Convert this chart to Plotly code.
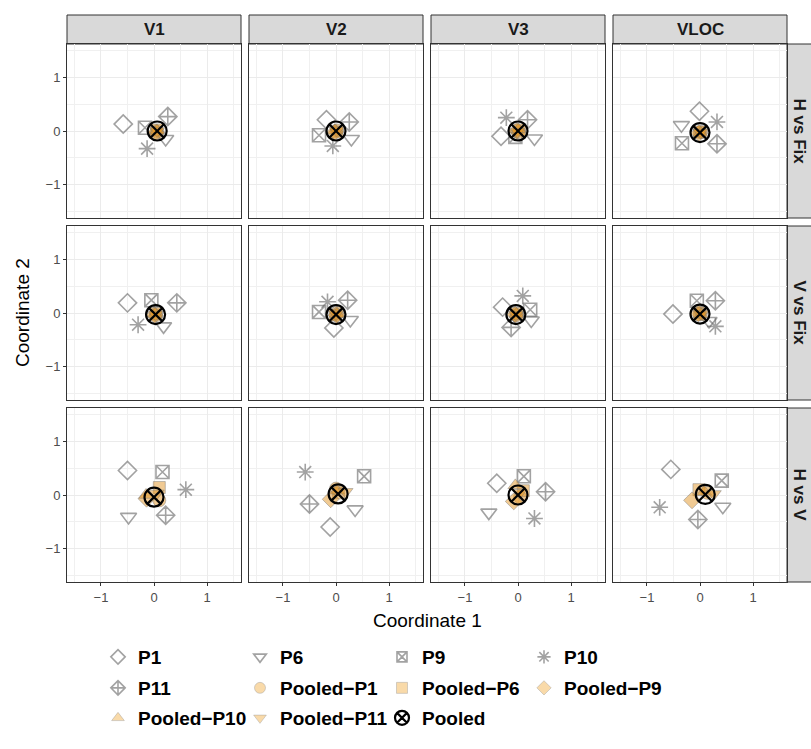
import plotly.graph_objects as go
from plotly.subplots import make_subplots

# ---------------- data ----------------
col_labels = ["V1", "V2", "V3", "VLOC"]
row_labels = ["H vs Fix", "V vs Fix", "H vs V"]
tick_vals = [-1, 0, 1]
tick_text = ["\u22121", "0", "1"]

# order: rows (H vs Fix, V vs Fix, H vs V) x columns (V1, V2, V3, VLOC)
P1_x = [-0.58, -0.18, -0.32, -0.01, -0.50, -0.04, -0.29, -0.51, -0.50, -0.11, -0.40, -0.55]
P1_y = [0.13, 0.21, -0.10, 0.37, 0.19, -0.28, 0.11, -0.02, 0.46, -0.60, 0.22, 0.48]
P6_x = [0.22, 0.29, 0.31, -0.35, 0.18, 0.27, 0.25, 0.17, -0.48, 0.36, -0.55, 0.43]
P6_y = [-0.15, -0.15, -0.14, 0.11, -0.25, -0.13, -0.14, -0.15, -0.41, -0.27, -0.33, -0.22]
P9_x = [-0.17, -0.32, -0.05, -0.34, -0.05, -0.32, 0.23, -0.06, 0.16, 0.53, 0.11, 0.41]
P9_y = [0.06, -0.08, -0.11, -0.23, 0.24, 0.02, 0.06, 0.23, 0.43, 0.35, 0.35, 0.27]
P10_x = [-0.13, -0.06, -0.22, 0.32, -0.30, -0.16, 0.09, 0.29, 0.60, -0.58, 0.31, -0.76]
P10_y = [-0.33, -0.28, 0.25, 0.17, -0.22, 0.21, 0.32, -0.25, 0.10, 0.43, -0.44, -0.23]
P11_x = [0.26, 0.25, 0.18, 0.32, 0.43, 0.22, -0.13, 0.29, 0.22, -0.50, 0.52, -0.04]
P11_y = [0.27, 0.17, 0.21, -0.24, 0.19, 0.24, -0.27, 0.23, -0.38, -0.17, 0.06, -0.46]

PP1_x = [0.07, 0.02, 0.02, 0.02, 0.04, 0.02, -0.03, 0.02, 0.10, 0.00, 0.04, 0.14]
PP1_y = [-0.02, 0.01, -0.02, -0.02, -0.04, 0.00, -0.04, 0.00, -0.10, 0.12, -0.04, 0.04]
PP6_x = [0.05, 0.02, 0.03, -0.01, 0.04, -0.02, -0.02, -0.01, 0.10, 0.05, 0.10, -0.02]
PP6_y = [0.02, -0.02, 0.02, -0.02, -0.01, -0.04, -0.01, -0.03, 0.14, 0.04, 0.08, 0.10]
PP9_x = [0.04, -0.02, -0.02, -0.02, 0.01, 0.01, -0.05, -0.03, -0.14, -0.10, -0.08, -0.15]
PP9_y = [-0.03, -0.02, 0.00, -0.04, -0.04, -0.04, -0.03, -0.01, -0.07, -0.08, -0.12, -0.10]
PP10_x = [0.06, -0.02, 0.01, 0.01, 0.02, 0.02, -0.03, 0.02, -0.15, 0.02, -0.05, 0.08]
PP10_y = [0.01, 0.01, 0.03, -0.04, -0.02, -0.02, -0.02, -0.03, 0.00, 0.08, 0.18, 0.06]
PP11_x = [0.06, 0.01, -0.01, 0.01, 0.03, 0.00, -0.04, 0.02, 0.05, 0.18, 0.03, 0.26]
PP11_y = [0.00, 0.01, -0.01, -0.03, -0.03, -0.02, -0.03, -0.02, 0.03, 0.06, 0.04, 0.02]

Pooled_x = [0.06, 0.00, 0.00, 0.00, 0.03, 0.00, -0.04, 0.00, 0.00, 0.04, 0.00, 0.10]
Pooled_y = [0.00, 0.00, 0.00, -0.03, -0.03, -0.03, -0.03, -0.02, -0.04, 0.02, 0.00, 0.01]

# ---------------- styles ----------------
GRAY = "rgba(100,100,100,0.6)"
TAN = "rgba(225,150,40,0.5)"
TAN_LINE = "rgba(120,120,120,0.45)"
FONT = "Liberation Sans, Arial, sans-serif"

series = [
    ("P1", P1_x, P1_y, dict(symbol="diamond-open", size=14, color=GRAY, line=dict(color=GRAY, width=1.6)), "legend"),
    ("P6", P6_x, P6_y, dict(symbol="triangle-down-open", size=14, color=GRAY, line=dict(color=GRAY, width=1.6)), "legend"),
    ("P9", P9_x, P9_y, dict(symbol="square-x-open", size=13, color=GRAY, line=dict(color=GRAY, width=1.6)), "legend"),
    ("P10", P10_x, P10_y, dict(symbol="asterisk-open", size=14, color=GRAY, line=dict(color=GRAY, width=1.6)), "legend"),
    ("P11", P11_x, P11_y, dict(symbol="diamond-cross-open", size=14, color=GRAY, line=dict(color=GRAY, width=1.6)), "legend2"),
    ("Pooled\u2212P1", PP1_x, PP1_y, dict(symbol="circle", size=13, color=TAN, line=dict(color=TAN_LINE, width=1)), "legend2"),
    ("Pooled\u2212P6", PP6_x, PP6_y, dict(symbol="square", size=12, color=TAN, line=dict(color=TAN_LINE, width=1)), "legend2"),
    ("Pooled\u2212P9", PP9_x, PP9_y, dict(symbol="diamond", size=13, color=TAN, line=dict(color=TAN_LINE, width=1)), "legend2"),
    ("Pooled\u2212P10", PP10_x, PP10_y, dict(symbol="triangle-up", size=13, color=TAN, line=dict(color=TAN_LINE, width=1)), "legend3"),
    ("Pooled\u2212P11", PP11_x, PP11_y, dict(symbol="triangle-down", size=13, color=TAN, line=dict(color=TAN_LINE, width=1)), "legend3"),
    ("Pooled", Pooled_x, Pooled_y, dict(symbol="circle-x-open", size=19, color="black", line=dict(color="black", width=2.2)), "legend3"),
]

# ---------------- geometry (px) ----------------
W, H = 811, 749
L, R, T, B = 67, 24, 44, 167
PW = W - L - R   # 720
PH = H - T - B   # 538
GAP = 8

fig = make_subplots(rows=3, cols=4, horizontal_spacing=GAP / PW, vertical_spacing=GAP / PH)

for r in range(3):
    for c in range(4):
        i = r * 4 + c
        for name, xs, ys, mk, lg in series:
            fig.add_trace(go.Scatter(x=[xs[i]], y=[ys[i]], mode="markers", marker=mk,
                                     name=name, showlegend=False, hoverinfo="skip"),
                          row=r + 1, col=c + 1)

# legend-only traces
legend_sizes = {"P1": 11, "P6": 11, "P9": 10, "P10": 11, "P11": 11, "Pooled": 14}
for name, xs, ys, mk, lg in series:
    m = dict(mk)
    m["size"] = legend_sizes.get(name, 11)
    if name.startswith("Pooled\u2212"):
        m["color"] = "rgba(240,168,50,0.42)"
        m["line"] = dict(color="rgba(150,150,150,0.4)", width=1)
    fig.add_trace(go.Scatter(x=[None], y=[None], mode="markers", marker=m, name=name,
                             showlegend=True, legend=lg, hoverinfo="skip"), row=1, col=1)

axis_common = dict(
    range=[-1.64, 1.64], tickvals=tick_vals, ticktext=tick_text,
    showgrid=True, gridcolor="#EBEBEB", gridwidth=1.1,
    minor=dict(tickvals=[-1.5, -0.5, 0.5, 1.5], showgrid=True, gridcolor="#F0F0F0", gridwidth=0.6, ticks=""),
    showline=True, linecolor="#333333", linewidth=1, mirror=True,
    zeroline=False, tickfont=dict(family=FONT, size=13, color="#4D4D4D"),
    ticklen=3, tickcolor="#333333", tickwidth=1,
)
for r in range(3):
    for c in range(4):
        xa = dict(axis_common)
        ya = dict(axis_common)
        ya["range"] = [-1.63, 1.63]
        if r == 2:
            xa["ticks"] = "outside"
            xa["showticklabels"] = True
        else:
            xa["ticks"] = ""
            xa["showticklabels"] = False
        if c == 0:
            ya["ticks"] = "outside"
            ya["showticklabels"] = True
        else:
            ya["ticks"] = ""
            ya["showticklabels"] = False
        fig.update_xaxes(row=r + 1, col=c + 1, **xa)
        fig.update_yaxes(row=r + 1, col=c + 1, **ya)

def px_x(px):
    return (px - L) / PW

def px_y(py):
    return (T + PH - py) / PH

shapes = []
annotations = []
# top strips
for c, lab in enumerate(col_labels):
    x0 = L + c * (174 + GAP)
    x1 = x0 + 174
    shapes.append(dict(type="rect", xref="paper", yref="paper", x0=px_x(x0), x1=px_x(x1),
                       y0=px_y(44), y1=px_y(15), fillcolor="#D9D9D9",
                       line=dict(color="#333333", width=1), layer="below"))
    annotations.append(dict(text="<b>%s</b>" % lab, xref="paper", yref="paper",
                            x=px_x((x0 + x1) / 2), y=px_y(29.5), showarrow=False,
                            font=dict(family=FONT, size=17, color="#1A1A1A"),
                            xanchor="center", yanchor="middle"))
# right strips
for r, lab in enumerate(row_labels):
    y0 = T + r * (174 + GAP)
    y1 = y0 + 174
    shapes.append(dict(type="rect", xref="paper", yref="paper", x0=px_x(787), x1=px_x(812),
                       y0=px_y(y1), y1=px_y(y0), fillcolor="#D9D9D9",
                       line=dict(color="#333333", width=1), layer="below"))
    annotations.append(dict(text="<b>%s</b>" % lab, xref="paper", yref="paper",
                            x=px_x(799.5), y=px_y((y0 + y1) / 2), showarrow=False, textangle=90,
                            font=dict(family=FONT, size=17, color="#1A1A1A"),
                            xanchor="center", yanchor="middle"))
# axis titles
annotations.append(dict(text="Coordinate 1", xref="paper", yref="paper", x=px_x(427), y=px_y(620),
                        showarrow=False, font=dict(family=FONT, size=19, color="black"),
                        xanchor="center", yanchor="middle"))
annotations.append(dict(text="Coordinate 2", xref="paper", yref="paper", x=px_x(22), y=px_y(313),
                        showarrow=False, textangle=-90, font=dict(family=FONT, size=19, color="black"),
                        xanchor="center", yanchor="middle"))

leg_common = dict(orientation="h", xanchor="left", yanchor="middle", entrywidthmode="pixels",
                  entrywidth=97, bgcolor="rgba(0,0,0,0)", itemsizing="trace",
                  font=dict(family=FONT, size=19, color="black", weight="bold"),
                  tracegroupgap=0, itemclick=False, itemdoubleclick=False)
lx = px_x(98)
fig.update_layout(
    legend=dict(leg_common, x=lx, y=px_y(657)),
    legend2=dict(leg_common, x=lx, y=px_y(688)),
    legend3=dict(leg_common, x=lx, y=px_y(718)),
)

fig.update_layout(
    width=W, height=H, margin=dict(l=L, r=R, t=T, b=B, pad=0),
    paper_bgcolor="white", plot_bgcolor="white",
    shapes=shapes, annotations=annotations,
    font=dict(family=FONT),
)

fig.write_html("out.html", config={"displayModeBar": False},
               post_script="document.body.style.margin='0';")
